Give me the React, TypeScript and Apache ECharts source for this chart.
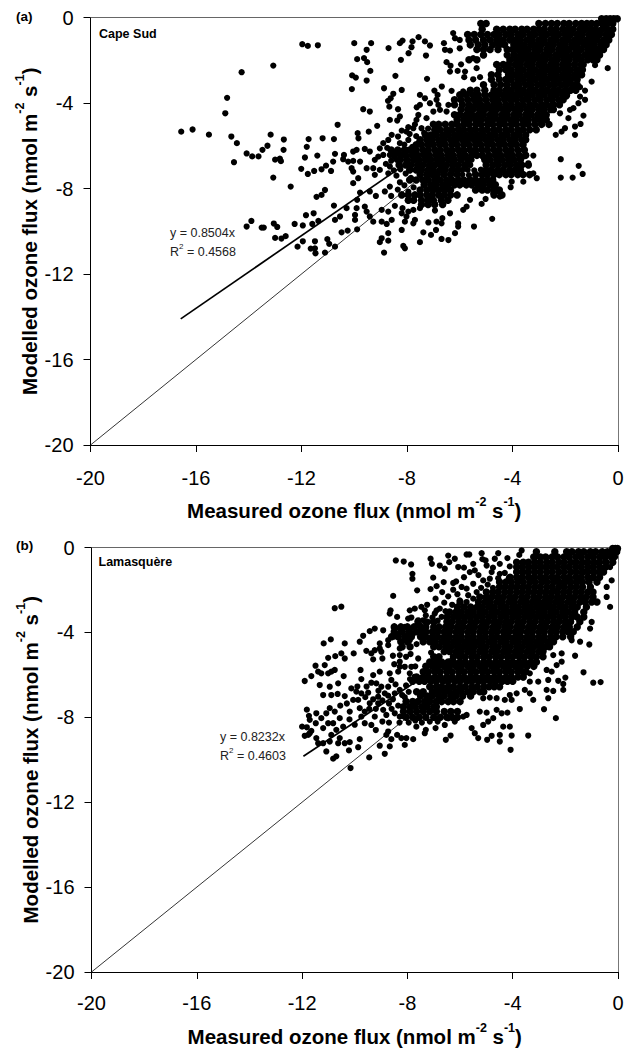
import React, { useEffect, useRef } from "react";
import * as echarts from "echarts";

const tickLabels = [-20, -16, -12, -8, -4, 0];
const slopeA = 0.8504;
const slopeB = 0.8232;
const lineStartA = -16.58;
const lineStartB = -11.95;

const pointsA: number[][] = [
[-16.56,-5.34],[-16.13,-5.24],[-15.51,-5.48],[-14.66,-5.57],[-14.45,-5.88],[-14.82,-3.76],[-14.89,-4.48],[-14.27,-2.56],[-13.07,-2.25],[-14.56,-6.77],[-14.08,-6.36],[-13.87,-6.5],[-13.63,-6.5],[-13.48,-6.19],[-13.29,-6.0],[-13.17,-5.48],[-12.67,-5.71],[-12.68,-6.19],[-13,-6.65],[-12.82,-6.6],[-12.78,-6.72],[-13.07,-7.49],[-12.41,-7.91],[-12.01,-7.08],[-11.76,-7.32],[-11.52,-7.18],[-11.87,-6.55],[-11.8,-6.05],[-11.73,-5.69],[-11.4,-6.46],[-11.97,-1.25],[-11.76,-1.33],[-11.38,-1.3],[-11.43,-8.39],[-11.83,-9.25],[-11.54,-9.16],[-14.08,-9.78],[-13.9,-9.52],[-13.51,-9.83],[-13.43,-9.83],[-13.05,-9.64],[-12.92,-9.8],[-13,-10.31],[-12.76,-10.34],[-12.6,-10.23],[-12.26,-9.66],[-11.95,-9.73],[-11.59,-9.66],[-11.36,-9.52],[-12.15,-10.72],[-11.95,-10.47],[-11.65,-10.81],[-11.49,-10.47],[-11.49,-10.8],[-11.47,-11.03],
[-10.0,-1.2],[-9.36,-1.2],[-9.53,-1.51],[-8.7,-1.43],[-8.27,-1.2],[-8.17,-1.08],[-7.79,-1.12],[-7.56,-0.92],[-7.32,-1.12],[-7.13,-1.31],[-7.83,-1.39],[-7.94,-1.67],[-7.28,-1.78],[-8.23,-1.98],[-9.89,-1.95],[-9.63,-1.9],[-9.51,-2.09],[-9.39,-2.5],[-10.08,-2.71],[-9.94,-2.81],[-9.53,-2.95],[-10.09,-3.35],[-8.44,-2.73],[-7.24,-2.87],[-8.87,-3.31],[-8.52,-3.57],[-8.62,-3.78],[-8.72,-3.9],[-8.2,-3.39],[-8.67,-4.17],[-8.34,-4.29],[-9.66,-4.29],[-9.41,-4.4],[-8.27,-4.63],[-8.37,-4.82],[-8.65,-4.79],[-10.63,-5.02],[-9.13,-5.07],[-9.45,-5.34],[-9.87,-5.41],[-9.84,-5.65],[-10.77,-5.69],[-11.2,-5.65],
[-6.6,-1.2],[-6.56,-1.51],[-6.37,-1.55],[-6.5,-2.09],[-6.35,-2.26],[-6.37,-2.53],[-6.08,-2.5],[-5.8,-2.53],[-5.95,-2.19],[-5.83,-2.79],[-5.49,-2.89],[-5.23,-2.79],[-5.36,-2.37],[-6.25,-0.73],[-6.18,-0.97],[-6.0,-1.05],[-6.0,-1.44],[-5.49,-1.9],
[-6.68,-3.23],[-6.96,-3.42],[-6.84,-3.62],[-6.31,-3.43],[-5.87,-3.46],[-7.51,-3.62],[-7.32,-3.78],[-6.88,-3.85],[-6.81,-4.09],[-7.51,-4.09],[-7.63,-4.2],[-7.13,-4.01],[-6.43,-4.09],[-7.57,-4.56],[-7.64,-4.79],[-7.26,-4.71],[-7.0,-4.4],[-6.75,-4.32],[-6.5,-4.4],[-7.76,-5.18],[-7.95,-5.13],[-8.2,-5.29],[-8.58,-5.49],[-8.71,-5.73],[-8.9,-5.88],[-9.03,-6.12],[-8.27,-5.88],[-8.34,-5.57],[-7.95,-5.73],[-8.02,-5.34],[-7.45,-5.18],
[-9.6,-6.15],[-9.41,-6.27],[-9.22,-6.66],[-9.09,-6.51],[-8.9,-6.43],[-8.65,-6.43],[-10.04,-6.27],[-9.91,-6.19],[-10.39,-6.43],[-10.42,-6.63],[-10.73,-6.38],[-10.8,-6.74],[-10.23,-6.74],[-10.04,-6.71],[-9.78,-6.74],[-11.07,-6.93],[-11.24,-7.1],[-10.88,-7.18],[-10.1,-7.05],[-10.04,-7.21],[-9.53,-7.05],[-9.28,-7.05],[-9.03,-7.13],[-8.65,-6.97],[-8.39,-6.66],[-10.04,-7.75],[-9.85,-7.52],[-11.11,-8.07],[-11.24,-8.3],[-9.22,-7.36],[-8.71,-7.29],[-8.27,-7.71],[-8.65,-7.91],[-9.41,-8.14],[-9.78,-8.19],[-9.18,-8.35],[-8.84,-8.14],[-10.77,-8.8],[-9.89,-8.53],[-9.91,-8.92],[-9.6,-8.85],[-9.53,-9.08],[-10.29,-8.92],[-10.54,-9.31],[-10.73,-9.47],[-9.97,-9.24],[-9.97,-9.47],[-9.41,-9.31],[-9.28,-9.55],[-8.96,-9.0],[-8.71,-9.08],[-8.46,-8.81],[-8.17,-8.92],[-8.2,-9.16],[-7.95,-9.08],[-7.76,-9.0],[-7.51,-8.92],[-8.96,-9.55],[-8.77,-9.66],[-8.58,-9.47],[-8.02,-9.31],[-8.08,-9.55],[-7.7,-9.47],[-7.76,-9.63],[-8.71,-10.09],[-8.2,-9.94],[-10.48,-10.05],[-10.25,-9.97],[-9.89,-9.91],[-8.96,-10.33],[-8.71,-10.44],[-9.03,-10.51],[-8.14,-10.69],[-8.08,-10.8],[-7.51,-10.51],[-8.87,-11.0],[-11.02,-10.37],[-10.95,-10.59],[-10.73,-10.72],[-11.11,-11.0],[-7.38,-10.05],[-7.09,-10.17],[-6.9,-9.94],[-6.69,-9.63],[-6.88,-9.55],[-7.19,-9.59],[-6.69,-10.36],[-6.43,-10.41],[-6.18,-10.09],[-6.06,-9.78],[-6.06,-9.63],[-6.37,-9.16],[-6.94,-9.03],[-6.66,-9.39],[-5.46,-9.78],[-4.77,-9.42],[-5.87,-9.0],[-5.74,-8.85],[-5.61,-8.53],[-5.17,-8.72],[-5.02,-8.49],[-4.48,-8.38],[-4.73,-8.22],[-4.07,-7.94],[-4.03,-7.68],[-4.54,-8.14],
[-2.17,-6.63],[-1.49,-6.94],[-1.34,-7.32],[-1.72,-7.49],[-2.17,-7.49],[-3.08,-7.52],[-3.59,-7.68],[-3.21,-6.46],[-3.59,-6.51],[-3.4,-6.82],[-3.21,-7.29],[-1.63,-5.49],[-1.42,-4.98],[-1.63,-5.1],[-1.31,-4.59],[-2.01,-5.18],[-2.14,-5.34],[-2.36,-5.49],[-1.88,-4.71],[-2.2,-4.48],[-1.69,-4.24],[-1.5,-4.01],[-1.25,-3.85],[-1.44,-3.7],[-1.25,-3.42],[-1.44,-3.26],[-1.0,-3.0],[-1.44,-2.68],[-0.87,-2.23],[-0.39,-2.37],[-1.95,-3.7],[-1.82,-4.32],
[-5.9,-7.13],[-5.7,-7.13],[-5.45,-7.15],[-5.2,-7.12],[-5.9,-7.35],[-5.65,-7.38],[-5.6,-6.9],[-5.55,-6.66],[-5.1,-6.55],[-5.55,-6.5],
[-7.7,-5.0],[-7.9,-5.45],[-7.65,-5.55],[-8.1,-5.95],[-8.0,-6.2],[-7.8,-6.05],[-7.55,-5.85],[-7.35,-5.4],[-7.2,-5.2],[-8.45,-6.3],[-8.75,-6.1],[-8.6,-6.7],[-8.8,-6.85],[-8.5,-7.15],[-8.25,-7.1],[-8.05,-7.3],[-8.4,-7.4],[-7.85,-7.5],[-8.1,-7.85],[-7.75,-7.95],[-7.95,-8.15],[-8.35,-8.05],[-8.6,-8.35],
];

const rowsA: [number, number[]][] = [
[-0.06,[-0.62,-0.45,-0.3,-0.16,-0.03]],
[-0.28,[-5.2,-5.0,-3.0,-2.75,-2.52,-2.3,-2.05,-1.85,-1.6,-1.38,-1.18,-1,-0.8,-0.6,-0.4,-0.2]],
[-0.55,[-5.15,-4.6,-4.35,-4.1,-3.9,-3.65,-3.45,-3.2,-3,-2.8,-2.55,-2.35,-2.1,-1.9,-1.7,-1.45,-1.25,-1.05,-0.85,-0.6,-0.4,-0.2]],
[-0.8,[-5.7,-5.45,-5.2,-4.95,-4.7,-4.5,-4.25,-4.05,-3.8,-3.6,-3.35,-3.15,-2.9,-2.7,-2.45,-2.25,-2,-1.8,-1.55,-1.35,-1.1,-0.9,-0.7,-0.45,-0.25]],
[-1.05,[-5.65,-5.4,-5.1,-4.85,-4.6,-4.35,-4.1,-3.9,-3.7,-3.45,-3.25,-3,-2.8,-2.55,-2.35,-2.1,-1.9,-1.65,-1.45,-1.2,-1,-0.8,-0.55,-0.35]],
[-1.28,[-5.6,-5.3,-5.05,-4.75,-4.5,-4.3,-3.95,-3.75,-3.55,-3.3,-3.1,-2.9,-2.65,-2.45,-2.2,-2,-1.75,-1.55,-1.3,-1.1,-0.9,-0.65,-0.45]],
[-1.5,[-5.35,-5.1,-4.85,-4.55,-4.2,-4,-3.8,-3.6,-3.4,-3.15,-2.95,-2.7,-2.5,-2.25,-2.05,-1.85,-1.6,-1.4,-1.15,-0.95,-0.75,-0.55]],
[-1.75,[-5.1,-4.2,-3.95,-3.7,-3.5,-3.25,-3.05,-2.8,-2.6,-2.35,-2.15,-1.95,-1.7,-1.5,-1.25,-1.05,-0.85,-0.7]],
[-1.98,[-5.65,-5.35,-4.1,-3.85,-3.65,-3.4,-3.2,-2.95,-2.75,-2.5,-2.3,-2.05,-1.85,-1.6,-1.4,-1.15,-0.95,-0.8]],
[-2.2,[-4.6,-4.35,-4.15,-3.9,-3.7,-3.45,-3.25,-3,-2.8,-2.55,-2.35,-2.1,-1.9,-1.65,-1.4,-1.32]],
[-2.45,[-4.5,-4.25,-4.05,-3.8,-3.6,-3.35,-3.15,-2.9,-2.7,-2.45,-2.25,-2,-1.8,-1.55,-1.35]],
[-2.68,[-4.8,-4.55,-4.15,-3.9,-3.7,-3.45,-3.25,-3,-2.8,-2.55,-2.35,-2.1,-1.9,-1.65,-1.38]],
[-2.9,[-4.8,-4.5,-4.25,-4.05,-3.8,-3.6,-3.35,-3.15,-2.9,-2.7,-2.45,-2.25,-2,-1.8,-1.55]],
[-3.15,[-5.1,-4.7,-4.45,-4.2,-3.95,-3.75,-3.5,-3.3,-3.05,-2.85,-2.6,-2.4,-2.15,-1.95,-1.72,-1.55]],
[-3.4,[-5.6,-5.35,-5.05,-4.7,-4.5,-4.25,-4.05,-3.8,-3.6,-3.35,-3.15,-2.9,-2.7,-2.45,-2.25,-2,-1.8,-1.6]],
[-3.62,[-6.0,-5.75,-5.5,-5.3,-5.05,-4.8,-4.6,-4.35,-4.15,-3.9,-3.7,-3.45,-3.25,-3,-2.8,-2.55,-2.35,-2.1,-1.95]],
[-3.85,[-6.2,-5.95,-5.7,-5.45,-5.25,-5,-4.75,-4.55,-4.3,-4.05,-3.85,-3.6,-3.4,-3.15,-2.95,-2.7,-2.5,-2.25,-2.08]],
[-4.08,[-6.2,-5.9,-5.65,-5.4,-5.2,-4.95,-4.7,-4.5,-4.25,-4.05,-3.8,-3.6,-3.35,-3.15,-2.9,-2.7,-2.45,-2.22]],
[-4.3,[-5.95,-5.7,-5.5,-5.25,-5.05,-4.8,-4.6,-4.35,-4.15,-3.9,-3.7,-3.45,-3.25,-3,-2.8,-2.55,-2.45]],
[-4.55,[-6.2,-6,-5.75,-5.55,-5.3,-5.1,-4.85,-4.65,-4.4,-4.2,-3.95,-3.75,-3.5,-3.3,-3.05,-2.85,-2.72]],
[-4.78,[-6.1,-5.85,-5.65,-5.4,-5.2,-4.95,-4.75,-4.5,-4.3,-4.05,-3.85,-3.6,-3.4,-3.15,-2.95,-2.72]],
[-5.0,[-7,-6.8,-6.55,-6.3,-6.1,-5.85,-5.65,-5.4,-5.2,-4.95,-4.75,-4.5,-4.3,-4.05,-3.85,-3.6,-3.4,-3.15,-2.9,-2.62]],
[-5.25,[-6.95,-6.75,-6.5,-6.3,-6.05,-5.85,-5.6,-5.4,-5.15,-4.95,-4.7,-4.5,-4.25,-4.05,-3.8,-3.6,-3.35,-3.1]],
[-5.5,[-7.3,-7.1,-6.9,-6.65,-6.45,-6.2,-6,-5.75,-5.55,-5.3,-5.1,-4.85,-4.65,-4.4,-4.2,-3.95,-3.75,-3.5]],
[-5.72,[-7.5,-7.25,-7.05,-6.8,-6.6,-6.35,-6.15,-5.9,-5.7,-5.45,-5.25,-5,-4.8,-4.55,-4.35,-4.1,-3.9,-3.65,-3.5]],
[-5.95,[-7.65,-7.45,-7.2,-7,-6.75,-6.55,-6.3,-6.1,-5.85,-5.65,-5.4,-5.2,-4.95,-4.75,-4.5,-4.3,-4.05,-3.85,-3.6]],
[-6.2,[-8.6,-8.35,-8.1,-7.9,-7.65,-7.4,-7.2,-6.95,-6.75,-6.5,-6.3,-6.05,-5.85,-5.6,-5.4,-5.15,-4.95,-4.7,-4.5,-4.25,-4.05,-3.8,-3.55]],
[-6.45,[-8.5,-8.25,-8.05,-7.8,-7.6,-7.35,-7.15,-6.9,-6.7,-6.45,-6.25,-6,-5.8,-5.55,-5.35,-5.15,-4.9,-4.65,-4.45,-4.2,-4,-3.75,-3.5]],
[-6.66,[-8.25,-8,-7.75,-7.55,-7.3,-7.1,-6.85,-6.65,-6.4,-6.2,-5.95,-5.7,-5.05,-4.85,-4.6,-4.4,-4.15,-3.95,-3.7]],
[-6.9,[-8.3,-8.05,-7.85,-7.6,-7.4,-7.15,-6.95,-6.7,-6.5,-6.25,-6.05,-5.8,-5,-4.75,-4.55,-4.3,-4.1,-3.85,-3.65,-3.4]],
[-7.13,[-7.9,-7.65,-7.45,-7.2,-7,-6.75,-6.55,-6.3,-6.08,-5,-4.8,-4.55,-4.35,-4.1,-3.9,-3.7]],
[-7.35,[-7.5,-7.25,-7.05,-6.85,-6.6,-6.35,-6.1,-5.4,-5.15,-4.95,-4.7,-4.5,-4.25,-4.05,-3.8,-3.6,-3.35]],
[-7.6,[-7.9,-7.65,-7.4,-7.2,-6.95,-6.75,-6.5,-6.3,-6.05,-5.85,-5.6,-5.4,-5.15,-4.95,-4.75]],
[-7.83,[-7.35,-7.1,-6.9,-6.65,-6.45,-6.2,-6,-5.75,-5.55,-5.3,-5.1,-4.85,-4.65]],
[-8.07,[-7.5,-7.25,-7,-6.8,-6.55,-6.35,-5.4,-5.15,-4.95,-4.7,-4.5]],
[-8.3,[-8.2,-7.95,-7.7,-7.5,-7.25,-7.05,-6.8,-6.6,-6.35,-6.1,-4.7,-4.4]],
[-8.55,[-7.95,-7.75,-7.45,-7.2,-7,-6.7,-6.45]],
[-8.75,[-7.45,-7.2,-6.95,-6.65]],
];

const pointsB: number[][] = [
[-11.9,-6.29],[-11.65,-6.06],[-11.49,-5.57],[-11.39,-5.85],[-11.82,-7.64],[-11.74,-7.93],[-11.71,-8.12],[-11.46,-7.81],[-11.48,-8.28],[-12.0,-8.44],[-11.82,-8.47],[-11.65,-8.64],[-11.71,-8.75],[-11.9,-8.87],[-11.77,-8.83],[-11.46,-8.98],[-11.39,-9.22],
[-8.44,-0.61],[-8.14,-0.66],[-7.86,-0.8],[-7.81,-1.24],[-7.81,-1.47],[-7.12,-0.53],[-7.07,-0.77],[-6.77,-0.85],[-6.58,-1],[-6.45,-0.38],[-6.2,-0.53],[-6.41,-0.69],[-6.07,-0.92],[-5.75,-0.33],[-5.65,-0.33],[-5.18,-0.27],[-4.55,-0.27],[-5.03,-0.61],[-4.99,-0.85],[-4.68,-0.53],[-4.49,-0.77],[-5.5,-0.77],[-5.44,-1.08],[-5.63,-1.16],[-4.8,-1.16],[-4.49,-1.24],[-4.11,-0.89],[-3.66,-0.14],[-7.02,-1.42],[-6.62,-1.63],[-6.89,-1.82],[-7.12,-1.96],[-7.63,-2.02],[-8.54,-2.28],[-6.26,-1.67],[-6.26,-1.99],[-6.68,-2.1],[-6.93,-2.41],[-5.94,-1.86],[-5.75,-1.94],[-5.5,-1.71],[-5.12,-1.55],[-4.87,-1.47],[-10.76,-2.86],[-10.51,-2.79],[-8.64,-2.96],[-8.67,-3.11],[-8.39,-3.27],
[-6.01,-2.49],[-5.75,-2.57],[-5.5,-2.41],[-5.37,-2.1],[-5.69,-2.25],[-7.91,-2.96],[-7.72,-2.88],[-7.47,-2.8],[-7.34,-2.96],[-7.97,-3.35],[-7.85,-3.3],[-6.89,-2.96],[-6.77,-2.88],[-6.96,-3.11],[-6.7,-3.27],[-7.59,-3.43],[-7.4,-3.43],[-7.21,-3.51],[-7.53,-3.66],[-8.92,-3.9],[-8.48,-3.74],[-8.29,-3.82],[-8.1,-3.74],[-7.91,-3.9],[-7.78,-4.05],[-9.24,-3.82],[-9.43,-3.94],[-9.68,-4.16],[-9.81,-4.44],[-10.91,-4.33],[-11.18,-4.52],[-10.38,-4.52],[-8.73,-4.37],[-8.73,-4.6],[-9.05,-4.52],[-9.05,-4.76],[-8.31,-4.05],[-8.1,-4.21],[-7.91,-4.37],[-9.56,-4.87],[-9.37,-4.99],[-9.24,-4.84],[-8.99,-4.91],[-8.95,-5.23],[-9.3,-5.27],[-10.04,-4.99],[-10.51,-4.99],[-10.38,-5.23],[-10.74,-5.12],[-11.01,-5.2],[-11.14,-5.54],[-8.29,-4.76],[-8.29,-5.07],[-8.29,-5.38],[-8.29,-5.62],[-7.88,-5.02],[-7.59,-5.23],[-8.1,-5.62],[-7.85,-5.62],
[-9.78,-5.77],[-9.75,-6.2],[-10.42,-6.06],[-10.89,-5.85],[-10.76,-5.77],[-11.01,-5.93],[-11.27,-5.93],[-9.3,-6.01],[-9.05,-5.85],[-9.37,-6.37],[-9.18,-6.4],[-8.99,-6.56],[-8.67,-5.93],[-8.61,-6.24],[-8.73,-6.56],[-8.35,-5.85],[-7.91,-5.93],[-7.72,-6.09],[-11.33,-6.48],[-10.95,-6.56],[-10.63,-6.4],[-10.89,-6.95],[-11.2,-6.95],[-10.38,-7.0],[-10.13,-6.64],[-9.94,-6.79],[-9.75,-6.87],[-9.49,-6.84],[-9.11,-7.03],[-8.86,-6.87],[-8.73,-6.98],[-8.48,-6.87],[-8.29,-6.71],[-10.06,-7.18],[-9.87,-7.18],[-10.95,-7.57],[-10.76,-7.73],[-11.08,-7.81],[-10.57,-8.04],[-11.27,-8.04],[-11.01,-8.28],[-10.82,-8.28],[-10.19,-7.73],[-9.81,-7.57],[-9.62,-7.73],[-9.75,-7.97],[-9.43,-7.34],[-9.11,-7.34],[-8.92,-7.65],[-8.8,-7.89],[-8.48,-7.81],[-8.29,-7.97],[-9.24,-7.97],[-9.62,-8.28],[-9.37,-8.36],[-10.44,-8.44],[-10.7,-8.59],[-11.2,-8.51],[-10.89,-8.83],[-10.57,-8.98],[-10.95,-9.14],[-10.38,-9.22],[-10.19,-9.17],[-11.2,-9.22],[-11.08,-9.61],[-10.63,-9.22],[-9.81,-9.03],[-9.87,-9.41],[-10.22,-9.56],[-10.7,-9.84],[-10.82,-9.95],[-9.45,-9.89],[-10.16,-10.39],[-9.05,-9.34],[-8.86,-9.72],[-8.67,-9.37],[-8.73,-8.67],[-8.8,-8.83],[-8.61,-9.03],[-8.39,-8.83],[-8.23,-8.98],[-8.04,-8.98],[-7.78,-9.03],[-8.1,-9.3],[-7.66,-8.44],[-7.3,-8.59],[-7.34,-8.75],[-6.93,-8.51],[-6.58,-8.36],[-6.54,-9.06],[-6.36,-8.86],
[-5.56,-8.51],[-5.44,-8.75],[-5.31,-8.98],[-4.97,-9.06],[-4.8,-8.87],[-4.49,-8.83],[-4.49,-9.14],[-4.36,-8.44],[-4.11,-8.44],[-4.04,-8.86],[-3.41,-8.86],[-4.08,-9.53],[-5.25,-7.73],[-4.99,-7.78],[-4.74,-8.04],[-5.12,-8.36],[-4.93,-8.2],[-4.61,-7.65],[-4.42,-7.81],[-4.2,-7.78],[-3.73,-7.61],[-2.81,-7.62],[-2.36,-8.04],[-5.75,-7.89],[-5.88,-7.97],[-5.12,-7.1],[-4.87,-7.07],[-4.61,-7.1],[-4.3,-7.18],[-4.04,-7.18],[-4.11,-6.95],[-3.85,-6.87],[-3.54,-6.71],[-3.35,-6.87],[-3.22,-7.18],[-2.71,-6.71],[-2.65,-7.1],[-2.46,-6.76],[-2.08,-6.71],[-2.08,-6.43],[-2,-6.13],[-2.27,-6.28],[-2.65,-6.24],[-3.03,-6.32],[-3.35,-6.32],[-3.6,-6.12],[-3.35,-5.93],[-2.71,-5.77],[-2.52,-5.85],[-2.33,-5.54],[-2.14,-5.38],[-2.46,-5.07],[-2.14,-4.99],[-1.63,-5.1],[-1.31,-5.88],[-0.94,-6.37],[-0.66,-6.34],[-1.09,-4.57],[-1.44,-4.44],[-1.76,-4.37],[-1.06,-3.82],[-1.0,-3.51],[-0.3,-2.8],[-0.43,-2.33],[-0.43,-1.86],[-0.24,-1.55],[-0.3,-0.92],[-0.11,-0.45],
[-7.3,-3.2],[-7.05,-3.3],[-6.85,-3.45],[-7.25,-2.7],[-6.55,-3.0],[-6.6,-2.6],[-6.3,-2.7],[-6.45,-2.3],[-6.1,-2.2],[-6.15,-1.6],[-5.85,-1.4],[-5.3,-1.3],[-5.2,-1.9],[-4.95,-1.75],[-4.75,-1.9],[-4.55,-1.45],[-4.3,-1.2],[-4.15,-1.45],[-5.15,-0.55],[-3.75,-0.35],[-4.2,-0.5],[-4.75,-0.95],[-5.85,-0.95],
[-8.5,-4.2],[-8.55,-5.1],[-8.5,-5.5],[-8.05,-5.15],[-7.1,-4.95],[-7.65,-4.55],[-7.7,-5.6],[-7.9,-6.2],[-8.05,-6.5],[-7.95,-6.8],[-8.2,-6.95],[-8.45,-6.45],[-8.1,-7.05],[-8.55,-7.15],[-8.35,-7.45],[-8.15,-7.95],[-8.6,-7.6],[-7.7,-8.15],[-7.45,-8.25],[-7.15,-8.2],[-6.85,-8.2],[-6.45,-8.05],[-6.2,-8.2],[-7.95,-8.25],[-8.3,-8.25],
[-9.9,-6.55],[-9.55,-6.55],[-9.6,-7.05],[-9.3,-7.15],[-9.1,-6.75],[-8.95,-7.2],[-8.7,-7.35],[-9.2,-7.6],[-9.45,-7.6],[-10.3,-7.35],[-10.55,-7.45],[-10.65,-6.9],[-10.2,-8.1],[-10,-8.35],[-9.2,-8.6],[-8.95,-8.2],[-8.7,-8.25],
];

const rowsB: [number, number[]][] = [
[-0.05,[-0.2,-0.1,-0.02]],
[-0.2,[-1.95,-1.75,-1.5,-1.3,-1.05,-0.85,-0.6,-0.4,-0.2,-0.05,-2.4,-3.1]],
[-0.45,[-3.2,-2.95,-2.75,-2.5,-2.3,-2.05,-1.85,-1.6,-1.4,-1.15,-0.95,-0.7,-0.5,-0.25]],
[-0.7,[-3.85,-3.6,-3.4,-3.15,-2.95,-2.7,-2.5,-2.25,-2.05,-1.8,-1.6,-1.35,-1.15,-0.9,-0.7,-0.45,-0.2]],
[-0.92,[-3.85,-3.65,-3.4,-3.2,-2.95,-2.75,-2.5,-2.3,-2.05,-1.85,-1.6,-1.4,-1.15,-0.95,-0.7,-0.47]],
[-1.15,[-3.85,-3.6,-3.4,-3.15,-2.95,-2.7,-2.5,-2.25,-2.05,-1.8,-1.6,-1.35,-1.15,-0.9,-0.7,-0.55]],
[-1.4,[-4.1,-3.85,-3.65,-3.4,-3.2,-2.95,-2.75,-2.5,-2.3,-2.05,-1.85,-1.6,-1.4,-1.15,-0.95,-0.7]],
[-1.63,[-4.5,-4.25,-4.05,-3.8,-3.6,-3.35,-3.15,-2.9,-2.7,-2.45,-2.25,-2,-1.8,-1.55,-1.35,-1.1,-0.8]],
[-1.86,[-4.5,-4.3,-4.05,-3.85,-3.6,-3.4,-3.15,-2.95,-2.7,-2.5,-2.25,-2.05,-1.8,-1.6,-1.35,-1.05]],
[-2.1,[-5,-4.75,-4.55,-4.3,-4.1,-3.85,-3.65,-3.4,-3.2,-2.95,-2.75,-2.5,-2.3,-2.05,-1.85,-1.6,-1.4,-1.15,-0.95]],
[-2.33,[-5.25,-5,-4.8,-4.55,-4.35,-4.1,-3.9,-3.65,-3.45,-3.2,-3,-2.75,-2.55,-2.3,-2.1,-1.85,-1.65,-1.4,-1.2,-0.95]],
[-2.57,[-6,-5.3,-5.05,-4.85,-4.6,-4.4,-4.15,-3.95,-3.7,-3.5,-3.25,-3.05,-2.8,-2.6,-2.35,-2.15,-1.9,-1.7,-1.45,-1.25,-1,-0.8]],
[-2.8,[-6.1,-5.85,-5.6,-5.35,-5.15,-4.9,-4.7,-4.45,-4.25,-4,-3.8,-3.55,-3.35,-3.1,-2.9,-2.65,-2.45,-2.2,-2,-1.75,-1.55,-1.2]],
[-3.04,[-6.4,-6.15,-5.95,-5.7,-5.5,-5.25,-5.05,-4.8,-4.6,-4.35,-4.15,-3.9,-3.7,-3.45,-3.25,-3,-2.8,-2.55,-2.35,-2.1,-1.9,-1.65,-1.3]],
[-3.27,[-6.5,-6.25,-6.05,-5.8,-5.6,-5.35,-5.15,-4.9,-4.7,-4.45,-4.25,-4,-3.8,-3.55,-3.35,-3.1,-2.9,-2.65,-2.45,-2.2,-2,-1.75,-1.55,-1.3]],
[-3.5,[-7.6,-7.3,-7,-6.5,-6.3,-6.05,-5.85,-5.6,-5.4,-5.15,-4.95,-4.7,-4.5,-4.25,-4.05,-3.8,-3.6,-3.35,-3.15,-2.9,-2.7,-2.45,-2.25,-2,-1.8,-1.45]],
[-3.74,[-8.5,-8.25,-8,-7.75,-7.5,-7.3,-7,-6.8,-6.55,-6.35,-6.1,-5.9,-5.65,-5.45,-5.2,-5,-4.75,-4.55,-4.3,-4.1,-3.85,-3.65,-3.4,-3.2,-2.95,-2.75,-2.5,-2.3,-2.05,-1.85,-1.55]],
[-3.97,[-8.5,-8.2,-7.95,-7.65,-7.4,-7.3,-7.05,-6.85,-6.6,-6.4,-6.15,-5.95,-5.7,-5.5,-5.25,-5.05,-4.8,-4.6,-4.35,-4.15,-3.9,-3.7,-3.45,-3.25,-3,-2.8,-2.55,-2.35,-2.1,-1.9,-1.7]],
[-4.2,[-8.6,-8.35,-8.1,-7.85,-7.5,-7.3,-7.05,-6.85,-6.6,-6.4,-6.15,-5.95,-5.7,-5.5,-5.25,-5.05,-4.8,-4.6,-4.35,-4.15,-3.9,-3.7,-3.45,-3.25,-3,-2.8,-2.55,-2.35,-2.1,-1.8]],
[-4.44,[-8.25,-8,-7.4,-7.15,-6.95,-6.7,-6.5,-6.25,-6.05,-5.8,-5.6,-5.35,-5.15,-4.9,-4.7,-4.45,-4.25,-4,-3.8,-3.55,-3.35,-3.1,-2.9,-2.65,-2.45]],
[-4.68,[-8.2,-7.9,-7,-6.8,-6.55,-6.35,-6.1,-5.9,-5.65,-5.45,-5.2,-5,-4.75,-4.55,-4.3,-4.1,-3.85,-3.65,-3.4,-3.2,-2.95,-2.75,-2.6]],
[-4.9,[-6.6,-6.4,-6.15,-5.95,-5.7,-5.5,-5.25,-5.05,-4.8,-4.6,-4.35,-4.15,-3.9,-3.7,-3.45,-3.25,-3,-2.85]],
[-5.15,[-7,-6.8,-6.25,-6,-5.8,-5.55,-5.35,-5.1,-4.9,-4.65,-4.45,-4.2,-4,-3.75,-3.55,-3.3,-3.1,-2.85]],
[-5.4,[-7.15,-6.9,-6.7,-6.45,-6.25,-6,-5.8,-5.55,-5.35,-5.1,-4.9,-4.65,-4.45,-4.2,-4,-3.75,-3.55,-3.3,-3.1]],
[-5.6,[-7.3,-7.05,-6.85,-6.6,-6.4,-6.15,-5.95,-5.7,-5.5,-5.25,-5.05,-4.8,-4.6,-4.35,-4.15,-3.9,-3.7,-3.45,-3.2]],
[-5.85,[-7.4,-7.2,-6.95,-6.75,-6.5,-6.3,-6.05,-5.85,-5.6,-5.4,-5.15,-4.95,-4.7,-4.5,-4.25,-4.05,-3.8,-3.6,-3.5]],
[-6.1,[-7.65,-7.4,-7.2,-6.95,-6.75,-6.5,-6.3,-6.05,-5.85,-5.6,-5.4,-5.15,-4.95,-4.7,-4.5,-4.25,-4.05,-3.8,-3.6]],
[-6.3,[-7.8,-7.55,-7.35,-7.1,-6.9,-6.65,-6.45,-6.2,-6,-5.75,-5.55,-5.3,-5.1,-4.85,-4.65,-4.4,-4.2,-4]],
[-6.56,[-7.15,-6.9,-6.7,-6.45,-6.25,-6,-5.8,-5.55,-5.35,-5.1,-4.9,-4.7,-4.5]],
[-6.8,[-7.65,-7.4,-7.05,-6.85,-6.6,-6.4,-6.15,-5.95,-5.7,-5.5,-5.25,-5.1]],
[-7.0,[-7.5,-7.25,-7.05,-6.8,-6.6,-6.35,-6.15,-5.9,-5.6]],
[-7.26,[-8.05,-7.8,-7.6,-7.35,-7.15,-6.9,-6.7,-6.45,-6.25,-6]],
[-7.5,[-8.15,-7.9,-7.7,-7.45,-7.25,-7,-6.9]],
[-7.73,[-8.15,-7.9,-7.65,-7.4,-7.15,-6.9,-6.6,-6.35,-6.1]],
[-8.0,[-8.05,-7.8,-7.55,-7.3,-7,-6.75,-6.5,-6.3,-6.1]],
];

const flatten = (rows: [number, number[]][]) =>
  rows.flatMap(([y, xs]) => xs.map((x) => [x, y]));

const dotSeries = (idx: number, data: number[][], size: number) => ({
  type: "scatter",
  xAxisIndex: idx,
  yAxisIndex: idx,
  symbol: "circle",
  symbolSize: size,
  itemStyle: { color: "#000", opacity: 1 },
  data,
  silent: true,
  z: 3,
});

const lineSeries = (idx: number, data: number[][], width: number) => ({
  type: "line",
  xAxisIndex: idx,
  yAxisIndex: idx,
  showSymbol: false,
  symbol: "none",
  lineStyle: { color: "#000", width },
  data,
  silent: true,
  z: 2,
});

const titleRich = {
  b: { fontFamily: "Liberation Sans", fontWeight: "bold", fontSize: 20.5, color: "#000", lineHeight: 26, verticalAlign: "bottom" },
  s: { fontFamily: "Liberation Sans", fontWeight: "bold", fontSize: 12.5, color: "#000", lineHeight: 26, verticalAlign: "top" },
};

const mainX = (gridIndex: number, gap: number, margin: number) => ({
  type: "value",
  gridIndex,
  min: -20,
  max: 0,
  interval: 4,
  position: "bottom",
  splitLine: { show: false },
  axisLine: { onZero: false, lineStyle: { color: "#000", width: 1 } },
  axisTick: { length: 7, lineStyle: { color: "#000", width: 1 } },
  axisLabel: { margin, fontFamily: "Liberation Sans", fontSize: 20, color: "#000", customValues: tickLabels },
  name: "{b|Measured ozone flux (nmol m}{s|-2}{b| s}{s|-1}{b|)}",
  nameLocation: "middle",
  nameGap: gap,
  nameTextStyle: { rich: titleRich },
});

const mainY = (gridIndex: number) => ({
  type: "value",
  gridIndex,
  min: -20,
  max: 0,
  interval: 4,
  position: "left",
  splitLine: { show: false },
  axisLine: { onZero: false, lineStyle: { color: "#000", width: 1 } },
  axisTick: { length: 7, lineStyle: { color: "#000", width: 1 } },
  axisLabel: { margin: 17, fontFamily: "Liberation Sans", fontSize: 20, color: "#000" },
  name: "{b|Modelled ozone flux (nmol m}{s|-2}{b| s}{s|-1}{b|)}",
  nameLocation: "middle",
  nameRotate: 90,
  nameGap: 51,
  nameMoveOverlap: false,
  nameTextStyle: { rich: titleRich },
});

const label = (x: number, y: number, text: string, size: number, bold: boolean, color = "#000") => ({
  type: "text",
  x,
  y,
  style: {
    text,
    fontFamily: "Liberation Sans",
    fontSize: size,
    fontWeight: bold ? "bold" : "normal",
    fill: color,
    verticalAlign: "middle",
    align: "left",
  },
});

const r2Label = (x: number, y: number, value: string) => ({
  type: "text",
  x,
  y,
  style: {
    rich: {
      n: { fontFamily: "Liberation Sans", fontSize: 12.5, fill: "#222", lineHeight: 16, verticalAlign: "bottom" },
      u: { fontFamily: "Liberation Sans", fontSize: 8, fill: "#222", lineHeight: 16, verticalAlign: "top" },
    },
    text: `{n|R}{u|2}{n| = ${value}}`,
    verticalAlign: "middle",
    align: "left",
  },
});

export default function App() {
  const ref = useRef<HTMLDivElement>(null);
  useEffect(() => {
    const chart = echarts.init(ref.current!, undefined, { renderer: "svg" });
    chart.setOption({
      animation: false,
      backgroundColor: "#fff",
      grid: [
        { left: 90.5, top: 17.5, width: 527.5, height: 427.5 },
        { left: 91.5, top: 547.5, width: 526.5, height: 426 },
        { left: 90.5, top: 17.5, width: 527.5, height: 427.5 },
        { left: 91.5, top: 547.5, width: 526.5, height: 426 },
      ],
      xAxis: [
        mainX(0, 50, 23),
        mainX(1, 49, 21),
        ...[2, 3].map((g) => ({
          type: "value", gridIndex: g, min: -20, max: 0, interval: 4, position: "top",
          splitLine: { show: false }, axisTick: { show: false }, axisLabel: { show: false },
          axisLine: { onZero: false, lineStyle: { color: "#666", width: 1 } },
        })),
      ],
      yAxis: [
        mainY(0),
        mainY(1),
        ...[2, 3].map((g) => ({
          type: "value", gridIndex: g, min: -20, max: 0, interval: 4, position: "right",
          splitLine: { show: false }, axisTick: { show: false }, axisLabel: { show: false },
          axisLine: { onZero: false, lineStyle: { color: "#777", width: 1 } },
        })),
      ],
      series: [
        lineSeries(0, [[-20, -20], [0, 0]], 0.8),
        lineSeries(0, [[lineStartA, lineStartA * slopeA], [0, 0]], 1.7),
        dotSeries(0, pointsA, 6.2),
        dotSeries(0, flatten(rowsA), 7.5),
        lineSeries(1, [[-20, -20], [0, 0]], 0.8),
        lineSeries(1, [[lineStartB, lineStartB * slopeB], [0, 0]], 1.7),
        dotSeries(1, pointsB, 6.2),
        dotSeries(1, flatten(rowsB), 7.5),
      ],
      graphic: [
        label(16, 16, "(a)", 13.5, true),
        label(99, 33.5, "Cape Sud", 12.5, true),
        label(170, 233, "y = 0.8504x", 12.5, false, "#222"),
        r2Label(170, 250.5, "0.4568"),
        label(16, 545, "(b)", 13.5, true),
        label(98.5, 562, "Lamasquère", 12.5, true),
        label(220, 736.5, "y = 0.8232x", 12.5, false, "#222"),
        r2Label(220, 754, "0.4603"),
      ],
    });
    return () => chart.dispose();
  }, []);
  return <div ref={ref} style={{ position: "absolute", left: 0, top: 0, width: 631, height: 1048 }} />;
}
